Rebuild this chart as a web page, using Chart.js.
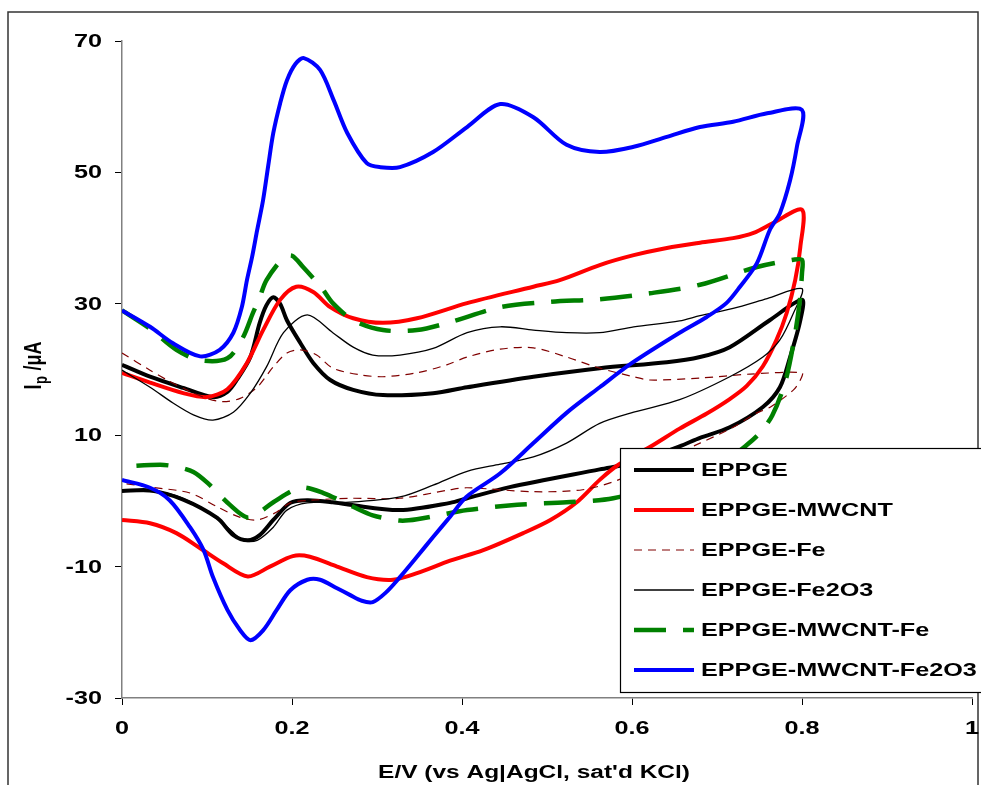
<!DOCTYPE html>
<html>
<head>
<meta charset="utf-8">
<script src="https://cdn.jsdelivr.net/npm/chart.js@4.4.1/dist/chart.umd.min.js"></script>
<style>
  html, body { margin: 0; padding: 0; background: #fff; }
  #cvChart { display: block; }
</style>
</head>
<body>
<canvas id="cvChart" width="981" height="785"></canvas>
<script>
// cyclic voltammograms, E in V, I in uA (forward scan then reverse)
const seriesNames = ['EPPGE', 'EPPGE-MWCNT', 'EPPGE-Fe', 'EPPGE-Fe2O3', 'EPPGE-MWCNT-Fe', 'EPPGE-MWCNT-Fe2O3'];

const eppgeE = [0, 0.033, 0.072, 0.107, 0.124, 0.135, 0.151, 0.162, 0.17, 0.178, 0.186, 0.194, 0.21, 0.225, 0.245, 0.272, 0.307, 0.366, 0.406, 0.484, 0.562, 0.641, 0.68, 0.715, 0.762, 0.8,
  0.798, 0.786, 0.774, 0.754, 0.715, 0.68, 0.656, 0.602, 0.562, 0.456, 0.406, 0.386, 0.327, 0.268, 0.248, 0.218, 0.198, 0.178, 0.162, 0.148, 0.131, 0.112, 0.072, 0.033, 0];
const eppgeI = [20.7, 18.9, 17.2, 15.8, 16.6, 18.4, 21.9, 27.1, 29.8, 31, 30, 27.5, 24, 21, 18.4, 16.9, 16.1, 16.4, 17.3, 18.9, 20.2, 21.1, 21.9, 23.4, 27.5, 30.6,
  27.5, 21.9, 17.3, 14.3, 11.2, 9.6, 8.3, 5.8, 4.8, 2.1, 0.4, -0.3, -1.4, -0.6, -0.2, 0.1, -0.3, -2.9, -5.2, -6, -5.2, -2.6, 0.2, 1.6, 1.5];

const mwcntE = [0, 0.033, 0.072, 0.1, 0.124, 0.147, 0.166, 0.186, 0.205, 0.225, 0.245, 0.272, 0.307, 0.347, 0.406, 0.484, 0.515, 0.562, 0.602, 0.641, 0.68, 0.719, 0.743, 0.766, 0.8,
  0.798, 0.792, 0.782, 0.77, 0.754, 0.735, 0.715, 0.688, 0.656, 0.621, 0.584, 0.562, 0.535, 0.504, 0.472, 0.425, 0.386, 0.347, 0.319, 0.288, 0.253, 0.221, 0.201, 0.174, 0.148, 0.119, 0.092, 0.064, 0.033, 0];
const mwcntI = [19.5, 18, 16.4, 15.8, 17, 21, 26, 30.6, 32.6, 31.8, 29.5, 27.8, 27.1, 27.8, 30.1, 32.6, 33.6, 35.9, 37.4, 38.5, 39.3, 40, 40.8, 42.3, 44.3,
  38.6, 33.6, 28.6, 24.5, 20.5, 17.5, 15.5, 13.3, 11, 8.2, 5.5, 3.2, -0.2, -2.9, -4.9, -7.5, -9.1, -11, -12, -11.6, -10, -8.5, -8.4, -10, -11.5, -9.5, -7.2, -4.9, -3.4, -2.9];

const feE = [0, 0.033, 0.053, 0.076, 0.1, 0.119, 0.139, 0.159, 0.178, 0.194, 0.21, 0.229, 0.248, 0.28, 0.307, 0.347, 0.382, 0.406, 0.445, 0.484, 0.523, 0.562, 0.602, 0.621, 0.68, 0.739, 0.8,
  0.798, 0.79, 0.763, 0.747, 0.719, 0.68, 0.584, 0.542, 0.484, 0.406, 0.386, 0.327, 0.268, 0.221, 0.198, 0.182, 0.159, 0.139, 0.112, 0.08, 0.033, 0];
const feI = [22.5, 19.9, 18.4, 16.9, 15.6, 15.1, 15.6, 17.3, 20.4, 22.5, 23, 22.2, 20.2, 19.2, 18.9, 19.5, 20.7, 21.9, 23.1, 23.3, 21.9, 20.2, 18.9, 18.4, 18.7, 19.3, 19.5,
  18.4, 16.9, 14.3, 13.4, 11.2, 8.8, 3.2, 1.7, 1.4, 2, 1.7, 0.4, 0.4, 0.1, -0.3, -1.7, -2.9, -2.5, -0.9, 1.2, 2.1, 2.7];

const fe2o3E = [0, 0.033, 0.06, 0.084, 0.107, 0.131, 0.151, 0.17, 0.19, 0.218, 0.248, 0.272, 0.295, 0.327, 0.366, 0.406, 0.445, 0.484, 0.523, 0.562, 0.602, 0.656, 0.68, 0.719, 0.759, 0.8,
  0.79, 0.774, 0.754, 0.715, 0.656, 0.602, 0.562, 0.523, 0.484, 0.445, 0.406, 0.366, 0.327, 0.268, 0.218, 0.194, 0.178, 0.159, 0.142, 0.124, 0.092, 0.053, 0];
const fe2o3I = [19.9, 17.3, 14.9, 13.1, 12.3, 13.5, 16.4, 20.4, 25.6, 28.3, 25.6, 23.4, 22.2, 22.2, 23.2, 25.6, 26.5, 26, 25.6, 25.6, 26.5, 27.4, 28.2, 29.3, 30.8, 32.3,
  28.6, 24.5, 21.9, 18.9, 15.4, 13.5, 11.8, 8.8, 6.7, 5.6, 4.5, 2.4, 0.6, -0.2, -0.3, -1.4, -4, -6, -6, -4, -0.9, 1.2, 1.5];

const mwFeE = [0, 0.033, 0.064, 0.092, 0.124, 0.142, 0.154, 0.162, 0.17, 0.19, 0.2, 0.213, 0.235, 0.248, 0.272, 0.307, 0.347, 0.386, 0.445, 0.504, 0.562, 0.621, 0.68, 0.747, 0.79, 0.8,
  0.8, 0.797, 0.79, 0.78, 0.765, 0.75, 0.735, 0.719, 0.65, 0.578, 0.523, 0.465, 0.406, 0.347, 0.327, 0.295, 0.272, 0.237, 0.21, 0.178, 0.162, 0.147, 0.127, 0.101, 0.084, 0.064, 0.045, 0];
const mwFeI = [29, 26.2, 23, 21.4, 21.7, 24.8, 28.6, 31, 33.6, 37, 37.3, 35.6, 32.4, 30.1, 27.5, 26, 26, 27.2, 29.5, 30.3, 30.7, 31.6, 32.9, 35.6, 36.7, 36.7,
  34.7, 30, 24, 18, 13, 10.3, 8.5, 7, 3, 0.4, -0.2, -0.6, -1.4, -2.8, -3, -2.2, -0.9, 1.2, 2, -0.2, -1.7, -2.5, -0.6, 2.7, 4.4, 5.2, 5.5, 5.2];

const mwFe2o3E = [0, 0.033, 0.06, 0.092, 0.115, 0.131, 0.141, 0.147, 0.153, 0.159, 0.166, 0.172, 0.178, 0.186, 0.194, 0.204, 0.214, 0.233, 0.249, 0.265, 0.288, 0.304, 0.327, 0.366, 0.406, 0.445, 0.484, 0.523, 0.562, 0.602, 0.641, 0.68, 0.719, 0.759, 0.8,
  0.794, 0.786, 0.774, 0.762, 0.747, 0.727, 0.711, 0.688, 0.656, 0.6, 0.562, 0.523, 0.484, 0.445, 0.405, 0.386, 0.366, 0.347, 0.327, 0.31, 0.295, 0.282, 0.268, 0.253, 0.233, 0.218, 0.198, 0.182, 0.166, 0.151, 0.139, 0.124, 0.107, 0.096, 0.08, 0.056, 0.033, 0];
const mwFe2o3I = [29, 26.5, 24, 22, 23, 25.6, 29.5, 33.6, 37.1, 41.2, 45.8, 51, 56, 60.5, 64, 66.5, 67.4, 65.6, 61, 56, 51.4, 50.8, 50.8, 53.1, 56.9, 60.4, 58.4, 54.2, 53.1, 53.9, 55.4, 56.9, 57.7, 59, 59.5,
  53.9, 48.8, 43.8, 41.2, 36.2, 32.6, 30.1, 28, 25.6, 21, 17.3, 13.4, 8.8, 4.2, 0.6, -2.4, -5.5, -8.5, -11.6, -14, -15.4, -15.2, -14.3, -13.3, -12, -12, -13.6, -16.6, -19.7, -21.2, -19.7, -16.6, -11.6, -7.5, -4, 0.1, 2, 3.2];

const xTicks = [0, 0.2, 0.4, 0.6, 0.8, 1];
const yTicks = [-30, -10, 10, 30, 50, 70];

const seriesE = [eppgeE, mwcntE, feE, fe2o3E, mwFeE, mwFe2o3E];
const seriesI = [eppgeI, mwcntI, feI, fe2o3I, mwFeI, mwFe2o3I];
const seriesStyle = [
  { color: '#000000', width: 4, dash: [] },
  { color: '#ff0000', width: 4, dash: [] },
  { color: '#800000', width: 1.2, dash: [8, 6] },
  { color: '#000000', width: 1.3, dash: [] },
  { color: '#008000', width: 4.5, dash: [32, 17] },
  { color: '#0000ff', width: 4, dash: [] }
];

function toPoints(es, is){ return es.map((e, i) => ({ x: e, y: is[i] })); }

const datasets = seriesNames.map((name, k) => ({
  label: name,
  data: toPoints(seriesE[k], seriesI[k]),
  showLine: true,
  fill: false,
  borderColor: seriesStyle[k].color,
  borderWidth: seriesStyle[k].width,
  borderDash: seriesStyle[k].dash,
  pointRadius: 0,
  pointHoverRadius: 0,
  tension: 0.3,
  order: seriesNames.length - k
}));

const FONT = 'bold 18px "Liberation Sans", Arial, sans-serif';
const SX = 1.4; // the original export is stretched sideways

function stretchText(ctx, text, x, y, sx, align){
  ctx.save();
  ctx.translate(x, y);
  ctx.scale(sx, 1);
  ctx.textAlign = align || 'left';
  ctx.fillText(text, 0, 0);
  ctx.restore();
}

const decor = {
  id: 'decor',
  beforeDraw(chart){
    const ctx = chart.ctx;
    ctx.save();
    ctx.fillStyle = '#fff';
    ctx.fillRect(0, 0, chart.width, chart.height);
    ctx.strokeStyle = '#333';
    ctx.lineWidth = 1.5;
    ctx.strokeRect(8, 12, 970, 800);
    ctx.restore();
  },
  afterDatasetsDraw(chart){
    const ctx = chart.ctx;
    ctx.save();
    // legend box sits over the lower right of the plot
    const bx = 620, by = 448, bw = 362, bh = 244;
    ctx.fillStyle = '#fff';
    ctx.fillRect(bx, by, bw, bh);
    ctx.strokeStyle = '#000';
    ctx.lineWidth = 1.2;
    ctx.strokeRect(bx + 0.5, by + 0.5, bw, bh);
    ctx.font = FONT;
    ctx.textBaseline = 'middle';
    ctx.fillStyle = '#000';
    seriesNames.forEach((name, k) => {
      const yy = 470 + k * 40;
      const st = seriesStyle[k];
      ctx.beginPath();
      ctx.strokeStyle = st.color;
      ctx.lineWidth = st.width;
      ctx.setLineDash(st.dash);
      ctx.moveTo(634, yy);
      ctx.lineTo(694, yy);
      ctx.stroke();
      ctx.setLineDash([]);
      stretchText(ctx, name, 701, yy + 1, SX, 'left');
    });
    ctx.restore();
  },
  afterDraw(chart){
    const ctx = chart.ctx;
    const xs = chart.scales.x, ys = chart.scales.y;
    ctx.save();
    ctx.fillStyle = '#000';
    ctx.textBaseline = 'middle';
    ctx.font = FONT;
    xTicks.forEach(v => stretchText(ctx, String(v), xs.getPixelForValue(v), 729, SX, 'center'));
    yTicks.forEach(v => stretchText(ctx, String(v), 102, ys.getPixelForValue(v) + 1, SX, 'right'));
    stretchText(ctx, "E/V (vs Ag|AgCl, sat'd KCl)", 534, 773, 1.36, 'center');
    // y axis title with subscript
    ctx.translate(33, 366);
    ctx.rotate(-Math.PI / 2);
    ctx.scale(1, 1.36);
    ctx.textAlign = 'left';
    ctx.textBaseline = 'alphabetic';
    const w1 = ctx.measureText('I').width;
    ctx.font = 'bold 13px "Liberation Sans", Arial, sans-serif';
    const w2 = ctx.measureText('p').width;
    ctx.font = FONT;
    const w3 = ctx.measureText(' /\u03bcA').width;
    const x0 = -(w1 + w2 + w3) / 2;
    const base = 6;
    ctx.fillText('I', x0, base);
    ctx.font = 'bold 13px "Liberation Sans", Arial, sans-serif';
    ctx.fillText('p', x0 + w1 + 0.5, base + 4);
    ctx.font = FONT;
    ctx.fillText(' /\u03bcA', x0 + w1 + w2 + 1, base);
    ctx.restore();
  }
};

new Chart(document.getElementById('cvChart').getContext('2d'), {
  type: 'scatter',
  data: { datasets: datasets },
  options: {
    responsive: false,
    maintainAspectRatio: false,
    animation: false,
    devicePixelRatio: 1,
    layout: { padding: { left: 0, top: 41, right: 9, bottom: 0 } },
    scales: {
      x: {
        type: 'linear', min: 0, max: 1,
        afterBuildTicks(scale){ scale.ticks = xTicks.map(v => ({ value: v })); },
        afterFit(scale){ scale.height = 87; },
        border: { color: '#808080', width: 1.5 },
        grid: { drawOnChartArea: false, drawTicks: true, tickLength: 7, tickColor: '#000' },
        ticks: { display: false }
      },
      y: {
        type: 'linear', min: -30, max: 70,
        afterBuildTicks(scale){ scale.ticks = yTicks.map(v => ({ value: v })); },
        afterFit(scale){ scale.width = 122; },
        border: { color: '#808080', width: 1.5 },
        grid: { drawOnChartArea: false, drawTicks: true, tickLength: 7, tickColor: '#000' },
        ticks: { display: false }
      }
    },
    plugins: {
      legend: { display: false },
      tooltip: { enabled: false }
    }
  },
  plugins: [decor]
});
</script>
</body>
</html>
